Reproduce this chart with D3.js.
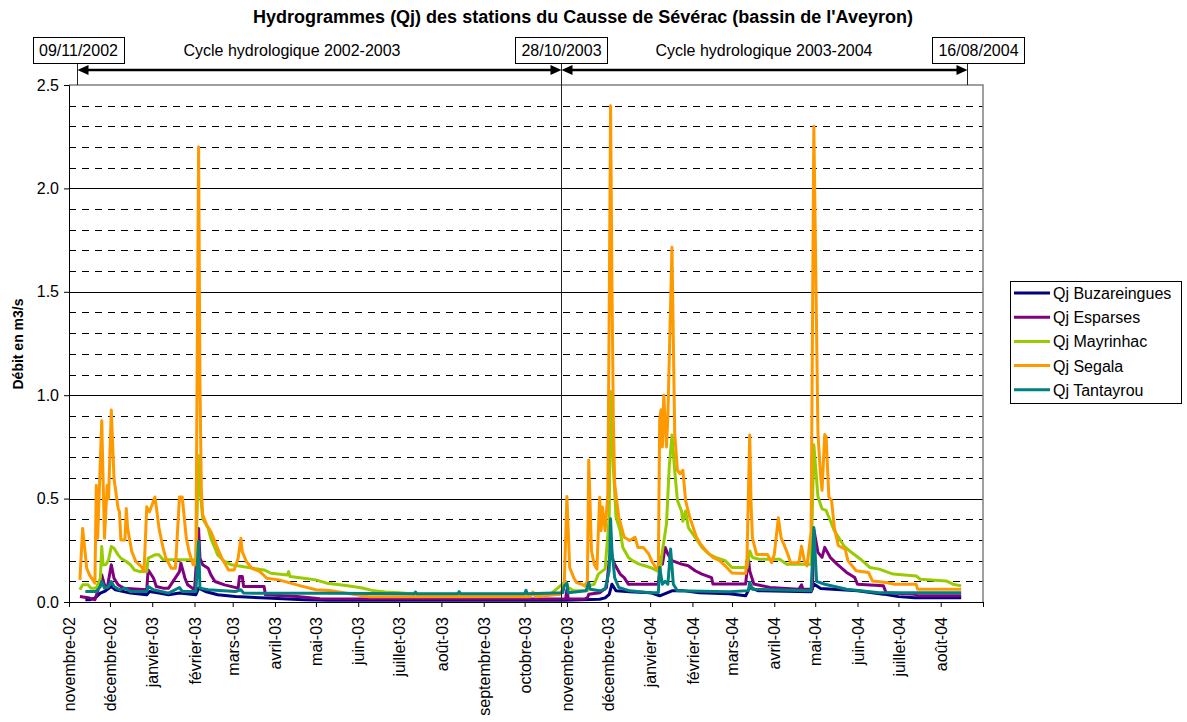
<!DOCTYPE html>
<html><head><meta charset="utf-8">
<script src="https://cdn.jsdelivr.net/npm/d3@7"></script>
<style>body{margin:0;background:#fff}svg{display:block}text{font-family:"Liberation Sans",Arial,sans-serif}</style>
</head><body><svg id="c" width="1187" height="722"></svg>
<script>
const seriesNames = ["Qj Buzareingues","Qj Esparses","Qj Mayrinhac","Qj Segala","Qj Tantayrou"];
const seriesColors = ["#000080","#800080","#99CC00","#FF9900","#008080"];
const xTickLabels = ["novembre-02","décembre-02","janvier-03","février-03","mars-03","avril-03","mai-03","juin-03","juillet-03","août-03","septembre-03","octobre-03","novembre-03","décembre-03","janvier-04","février-04","mars-04","avril-04","mai-04","juin-04","juillet-04","août-04"];
const yTicks = [0,0.5,1,1.5,2,2.5];
const annotDates = ["2002-11-09","2003-10-28","2004-08-16"];
const annotLabels = ["09/11/2002","28/10/2003","16/08/2004"];
const cycleLabels = ["Cycle hydrologique 2002-2003","Cycle hydrologique 2003-2004"];

const buzareingues = [["2002-11-13",0.011],["2002-11-16",0.011],["2002-11-20",0.019],["2002-11-24",0.043],["2002-11-27",0.051],["2002-12-02",0.075],["2002-12-05",0.059],["2002-12-16",0.043],["2002-12-28",0.035],["2002-12-30",0.051],["2003-01-06",0.043],["2003-01-13",0.035],["2003-01-21",0.043],["2003-02-02",0.035],["2003-02-04",0.067],["2003-02-09",0.051],["2003-02-18",0.035],["2003-03-03",0.027],["2003-03-26",0.019],["2003-04-22",0.011],["2003-05-10",0.008],["2003-10-31",0.008],["2003-11-25",0.013],["2003-11-29",0.02],["2003-12-02",0.037],["2003-12-04",0.086],["2003-12-07",0.054],["2003-12-17",0.05],["2004-01-01",0.045],["2004-01-08",0.03],["2004-01-17",0.054],["2004-01-25",0.055],["2004-02-06",0.045],["2004-02-28",0.04],["2004-03-11",0.03],["2004-03-14",0.07],["2004-03-20",0.055],["2004-04-28",0.05],["2004-04-30",0.087],["2004-05-05",0.065],["2004-06-01",0.054],["2004-06-20",0.038],["2004-07-01",0.026],["2004-07-13",0.02],["2004-08-16",0.02]];

const esparses = [["2002-11-09",0.027],["2002-11-16",0.019],["2002-11-20",0.011],["2002-11-22",0.051],["2002-11-25",0.131],["2002-11-27",0.083],["2002-11-29",0.067],["2002-12-02",0.18],["2002-12-04",0.115],["2002-12-07",0.083],["2002-12-11",0.067],["2002-12-28",0.059],["2002-12-29",0.155],["2003-01-02",0.115],["2003-01-04",0.075],["2003-01-09",0.067],["2003-01-13",0.067],["2003-01-21",0.147],["2003-01-22",0.188],["2003-01-25",0.115],["2003-01-27",0.083],["2003-02-01",0.059],["2003-02-04",0.356],["2003-02-05",0.212],["2003-02-07",0.18],["2003-02-11",0.163],["2003-02-13",0.131],["2003-02-16",0.099],["2003-02-23",0.083],["2003-03-05",0.067],["2003-03-06",0.123],["2003-03-08",0.123],["2003-03-09",0.075],["2003-03-24",0.075],["2003-03-25",0.035],["2003-04-17",0.027],["2003-05-04",0.016],["2003-10-31",0.014],["2003-11-01",0.06],["2003-11-02",0.015],["2003-11-14",0.015],["2003-11-16",0.02],["2003-11-17",0.037],["2003-11-25",0.045],["2003-11-30",0.07],["2003-12-02",0.2],["2003-12-03",0.23],["2003-12-06",0.183],["2003-12-10",0.135],["2003-12-13",0.118],["2003-12-16",0.086],["2004-01-07",0.086],["2004-01-09",0.216],["2004-01-10",0.183],["2004-01-12",0.264],["2004-01-14",0.232],["2004-01-17",0.2],["2004-01-24",0.183],["2004-01-29",0.175],["2004-02-03",0.151],["2004-02-08",0.135],["2004-02-15",0.118],["2004-02-16",0.087],["2004-03-11",0.087],["2004-03-13",0.215],["2004-03-14",0.15],["2004-03-17",0.087],["2004-03-29",0.07],["2004-04-19",0.062],["2004-04-21",0.083],["2004-04-22",0.062],["2004-04-29",0.062],["2004-04-30",0.35],["2004-05-03",0.24],["2004-05-06",0.216],["2004-05-08",0.264],["2004-05-12",0.216],["2004-05-17",0.183],["2004-05-24",0.143],["2004-05-30",0.118],["2004-06-01",0.086],["2004-06-20",0.078],["2004-06-22",0.045],["2004-07-13",0.037],["2004-07-15",0.03],["2004-08-16",0.03]];

const mayrinhac = [["2002-11-09",0.059],["2002-11-11",0.083],["2002-11-15",0.083],["2002-11-17",0.067],["2002-11-21",0.067],["2002-11-24",0.115],["2002-11-25",0.268],["2002-11-26",0.18],["2002-11-28",0.18],["2002-11-30",0.204],["2002-12-02",0.268],["2002-12-04",0.26],["2002-12-07",0.228],["2002-12-09",0.212],["2002-12-13",0.196],["2002-12-16",0.18],["2002-12-19",0.155],["2002-12-23",0.147],["2002-12-28",0.147],["2002-12-29",0.212],["2003-01-03",0.228],["2003-01-06",0.228],["2003-01-09",0.204],["2003-01-31",0.204],["2003-02-02",0.196],["2003-02-04",0.708],["2003-02-05",0.548],["2003-02-07",0.404],["2003-02-11",0.356],["2003-02-13",0.308],["2003-02-16",0.26],["2003-02-18",0.228],["2003-02-23",0.196],["2003-02-28",0.18],["2003-03-16",0.163],["2003-03-24",0.155],["2003-03-29",0.139],["2003-04-10",0.131],["2003-04-11",0.147],["2003-04-12",0.123],["2003-04-22",0.115],["2003-05-01",0.107],["2003-05-09",0.091],["2003-05-23",0.08],["2003-06-04",0.068],["2003-06-11",0.056],["2003-06-21",0.048],["2003-07-01",0.045],["2003-07-15",0.038],["2003-10-20",0.038],["2003-10-31",0.1],["2003-11-02",0.07],["2003-11-06",0.054],["2003-11-16",0.054],["2003-11-17",0.078],["2003-11-21",0.086],["2003-11-24",0.135],["2003-11-29",0.16],["2003-12-02",0.41],["2003-12-03",1.018],["2003-12-05",0.653],["2003-12-07",0.41],["2003-12-10",0.345],["2003-12-12",0.264],["2003-12-16",0.216],["2003-12-19",0.2],["2003-12-24",0.183],["2003-12-28",0.175],["2004-01-01",0.167],["2004-01-06",0.151],["2004-01-08",0.143],["2004-01-10",0.248],["2004-01-13",0.378],["2004-01-15",0.653],["2004-01-17",0.807],["2004-01-19",0.637],["2004-01-21",0.49],["2004-01-24",0.44],["2004-01-25",0.39],["2004-01-27",0.44],["2004-01-29",0.36],["2004-02-03",0.313],["2004-02-08",0.264],["2004-02-13",0.232],["2004-02-18",0.216],["2004-02-25",0.2],["2004-03-01",0.167],["2004-03-12",0.167],["2004-03-14",0.247],["2004-03-16",0.215],["2004-03-21",0.207],["2004-04-05",0.207],["2004-04-10",0.183],["2004-04-28",0.183],["2004-04-30",0.76],["2004-05-03",0.51],["2004-05-06",0.45],["2004-05-09",0.443],["2004-05-12",0.394],["2004-05-15",0.345],["2004-05-22",0.272],["2004-05-26",0.248],["2004-06-03",0.208],["2004-06-10",0.167],["2004-06-17",0.159],["2004-06-27",0.135],["2004-07-14",0.126],["2004-07-17",0.11],["2004-08-05",0.102],["2004-08-10",0.086],["2004-08-16",0.078]];

const segala = [["2002-11-09",0.107],["2002-11-11",0.356],["2002-11-14",0.163],["2002-11-16",0.131],["2002-11-20",0.091],["2002-11-21",0.564],["2002-11-22",0.308],["2002-11-25",0.877],["2002-11-27",0.308],["2002-11-29",0.564],["2002-11-30",0.5],["2002-12-02",0.929],["2002-12-04",0.596],["2002-12-07",0.452],["2002-12-08",0.436],["2002-12-09",0.30],["2002-12-12",0.30],["2002-12-13",0.452],["2002-12-14",0.356],["2002-12-17",0.244],["2002-12-20",0.196],["2002-12-24",0.171],["2002-12-26",0.147],["2002-12-28",0.46],["2002-12-30",0.436],["2003-01-03",0.508],["2003-01-04",0.46],["2003-01-06",0.356],["2003-01-09",0.26],["2003-01-11",0.212],["2003-01-15",0.163],["2003-01-18",0.163],["2003-01-21",0.508],["2003-01-23",0.508],["2003-01-26",0.308],["2003-01-28",0.244],["2003-01-31",0.18],["2003-02-02",0.18],["2003-02-04",2.2],["2003-02-05",1.05],["2003-02-06",0.548],["2003-02-07",0.42],["2003-02-10",0.372],["2003-02-13",0.34],["2003-02-16",0.292],["2003-02-18",0.26],["2003-02-21",0.212],["2003-02-26",0.155],["2003-03-02",0.155],["2003-03-05",0.212],["2003-03-07",0.308],["2003-03-08",0.244],["2003-03-11",0.196],["2003-03-15",0.163],["2003-03-21",0.147],["2003-03-26",0.115],["2003-04-04",0.107],["2003-04-17",0.083],["2003-05-01",0.059],["2003-05-11",0.056],["2003-05-26",0.04],["2003-06-09",0.025],["2003-10-05",0.025],["2003-10-07",0.048],["2003-10-09",0.025],["2003-10-27",0.037],["2003-10-30",0.08],["2003-11-01",0.51],["2003-11-03",0.167],["2003-11-06",0.118],["2003-11-08",0.094],["2003-11-12",0.086],["2003-11-14",0.078],["2003-11-16",0.10],["2003-11-17",0.686],["2003-11-19",0.248],["2003-11-21",0.183],["2003-11-23",0.159],["2003-11-25",0.507],["2003-11-26",0.345],["2003-11-27",0.459],["2003-11-29",0.345],["2003-12-01",0.524],["2003-12-02",1.415],["2003-12-03",2.40],["2003-12-04",1.545],["2003-12-05",0.897],["2003-12-06",0.572],["2003-12-09",0.41],["2003-12-13",0.313],["2003-12-17",0.297],["2003-12-21",0.313],["2003-12-23",0.264],["2003-12-27",0.264],["2003-12-31",0.232],["2004-01-02",0.2],["2004-01-05",0.167],["2004-01-07",0.159],["2004-01-08",0.88],["2004-01-09",0.93],["2004-01-10",0.75],["2004-01-11",1.0],["2004-01-13",0.75],["2004-01-14",0.897],["2004-01-17",1.715],["2004-01-19",0.816],["2004-01-21",0.637],["2004-01-23",0.62],["2004-01-25",0.637],["2004-01-27",0.49],["2004-01-30",0.41],["2004-02-04",0.313],["2004-02-07",0.28],["2004-02-11",0.248],["2004-02-16",0.216],["2004-02-21",0.2],["2004-02-25",0.175],["2004-03-01",0.14],["2004-03-11",0.138],["2004-03-12",0.215],["2004-03-14",0.808],["2004-03-15",0.47],["2004-03-16",0.31],["2004-03-19",0.23],["2004-03-27",0.23],["2004-03-30",0.19],["2004-04-01",0.23],["2004-04-04",0.407],["2004-04-06",0.31],["2004-04-08",0.28],["2004-04-11",0.23],["2004-04-13",0.19],["2004-04-19",0.19],["2004-04-21",0.27],["2004-04-23",0.2],["2004-04-25",0.175],["2004-04-28",0.34],["2004-04-30",2.3],["2004-05-03",0.816],["2004-05-05",0.605],["2004-05-06",0.54],["2004-05-08",0.81],["2004-05-09",0.80],["2004-05-11",0.508],["2004-05-13",0.49],["2004-05-15",0.36],["2004-05-18",0.272],["2004-05-23",0.256],["2004-05-25",0.2],["2004-05-31",0.151],["2004-06-09",0.143],["2004-06-12",0.102],["2004-06-22",0.094],["2004-06-28",0.086],["2004-07-14",0.086],["2004-07-15",0.062],["2004-08-16",0.062]];

const tantayrou = [["2002-11-13",0.051],["2002-11-21",0.051],["2002-11-24",0.075],["2002-11-25",0.099],["2002-11-27",0.067],["2002-11-30",0.075],["2002-12-02",0.099],["2002-12-04",0.075],["2002-12-08",0.059],["2002-12-12",0.067],["2002-12-16",0.051],["2002-12-28",0.051],["2002-12-29",0.075],["2003-01-02",0.059],["2003-01-13",0.043],["2003-01-21",0.07],["2003-01-23",0.051],["2003-02-02",0.051],["2003-02-04",0.292],["2003-02-05",0.067],["2003-02-11",0.059],["2003-03-03",0.051],["2003-03-07",0.059],["2003-03-09",0.043],["2003-05-10",0.042],["2003-07-12",0.04],["2003-07-13",0.048],["2003-07-14",0.04],["2003-08-13",0.04],["2003-08-14",0.05],["2003-08-15",0.04],["2003-10-01",0.04],["2003-10-02",0.056],["2003-10-03",0.04],["2003-10-29",0.045],["2003-10-30",0.078],["2003-11-01",0.09],["2003-11-02",0.045],["2003-11-15",0.054],["2003-11-17",0.094],["2003-11-18",0.062],["2003-11-25",0.054],["2003-11-29",0.062],["2003-12-02",0.151],["2003-12-03",0.402],["2003-12-04",0.248],["2003-12-06",0.118],["2003-12-09",0.07],["2003-12-17",0.054],["2004-01-01",0.045],["2004-01-07",0.045],["2004-01-08",0.167],["2004-01-10",0.086],["2004-01-12",0.10],["2004-01-14",0.086],["2004-01-16",0.256],["2004-01-18",0.086],["2004-01-21",0.054],["2004-02-28",0.05],["2004-03-13",0.055],["2004-03-14",0.095],["2004-03-16",0.062],["2004-04-28",0.054],["2004-04-30",0.36],["2004-05-02",0.10],["2004-05-08",0.086],["2004-05-24",0.062],["2004-06-17",0.045],["2004-08-16",0.045]];

const seriesData = [buzareingues, esparses, mayrinhac, segala, tantayrou];

const parse = d3.utcParse("%Y-%m-%d");
const svg = d3.select("#c");
svg.append("rect").attr("width",1187).attr("height",722).attr("fill","#fff");

const L = 69, R = 983, T = 85, B = 602;
const x = d3.scaleUtc().domain([parse("2002-11-01"), parse("2004-09-01")]).range([L, R]);
const y = d3.scaleLinear().domain([0, 2.5]).range([B, T]);

// gridlines
const minor = d3.range(1, 25).map(d => d / 10).filter(d => Math.abs(d * 2 - Math.round(d * 2)) > 1e-6);
svg.append("g").selectAll("line").data(minor).join("line")
  .attr("x1", L).attr("x2", R).attr("y1", d => Math.round(y(d)) + 0.5).attr("y2", d => Math.round(y(d)) + 0.5)
  .attr("stroke", "#000").attr("stroke-width", 1).attr("stroke-dasharray", "7,6");
svg.append("g").selectAll("line").data([0.5, 1, 1.5, 2]).join("line")
  .attr("x1", L).attr("x2", R).attr("y1", d => Math.round(y(d)) + 0.5).attr("y2", d => Math.round(y(d)) + 0.5)
  .attr("stroke", "#000").attr("stroke-width", 1);
// plot border top/right
svg.append("path").attr("d", `M${L},${T}H${R}V${B}`).attr("fill", "none").attr("stroke", "#808080").attr("stroke-width", 1.5);

// annotation positions
const ax = annotDates.map(d => x(parse(d)));
const nudge = [-3, 0, 6];
const boxShift = [1, 0, 11];
const axp = ax.map((v, i) => Math.round(v + nudge[i]) + 0.5);

// series
const line = d3.line().x(d => x(parse(d[0]))).y(d => y(d[1]));
svg.append("g").selectAll("path").data(seriesData).join("path")
  .attr("d", line).attr("fill", "none")
  .attr("stroke", (d, i) => seriesColors[i]).attr("stroke-width", 3)
  .attr("stroke-linejoin", "round");

svg.append("line").attr("x1", axp[1]).attr("x2", axp[1]).attr("y1", 63).attr("y2", B + 5)
  .attr("stroke", "#222").attr("stroke-width", 1);
[0, 2].forEach(i => svg.append("line").attr("x1", axp[i]).attr("x2", axp[i]).attr("y1", 63).attr("y2", T)
  .attr("stroke", "#222").attr("stroke-width", 1));

// axes
const yAxis = svg.append("g").attr("transform", `translate(${L},0)`)
  .call(d3.axisLeft(y).tickValues(yTicks).tickFormat(d => d.toFixed(1)).tickSize(5).tickPadding(5));
yAxis.select(".domain").attr("stroke", "#000");
yAxis.selectAll("text").attr("font-size", 16).attr("fill", "#000").attr("font-family", '"Liberation Sans",Arial,sans-serif');

const monthTicks = d3.utcMonth.range(parse("2002-11-01"), parse("2004-09-02"));
const xAxis = svg.append("g").attr("transform", `translate(0,${B})`)
  .call(d3.axisBottom(x).tickValues(monthTicks).tickFormat((d, i) => xTickLabels[i] || "").tickSize(5).tickSizeOuter(0));
xAxis.select(".domain").attr("stroke", "#000");
xAxis.selectAll("text").attr("font-size", 16).attr("fill", "#000").attr("font-family", '"Liberation Sans",Arial,sans-serif')
  .attr("transform", "rotate(-90)").attr("x", -15).attr("y", 0).attr("dy", "0.35em").style("text-anchor", "end");

// title
svg.append("text").attr("x", 583).attr("y", 23).attr("text-anchor", "middle")
  .attr("font-size", 18).attr("font-weight", "bold").text("Hydrogrammes (Qj) des stations du Causse de Sévérac (bassin de l'Aveyron)");

// y label
svg.append("text").attr("transform", "translate(23,344) rotate(-90)").attr("text-anchor", "middle")
  .attr("font-size", 14).attr("font-weight", "bold").text("Débit en m3/s");

// arrows
function arrow(x0, x1) {
  svg.append("line").attr("x1", x0 + 8).attr("x2", x1 - 8).attr("y1", 70).attr("y2", 70).attr("stroke", "#000").attr("stroke-width", 2.5);
  svg.append("path").attr("d", `M${x0},70L${x0 + 11},65L${x0 + 11},75Z`).attr("fill", "#000");
  svg.append("path").attr("d", `M${x1},70L${x1 - 11},65L${x1 - 11},75Z`).attr("fill", "#000");
}
arrow(axp[0], axp[1]);
arrow(axp[1], axp[2]);

// date boxes
annotLabels.forEach((t, i) => {
  const cx = axp[i] + boxShift[i];
  const g = svg.append("g");
  const tx = g.append("text").attr("x", cx).attr("y", 56).attr("text-anchor", "middle").attr("font-size", 16).text(t);
  const w = tx.node().getComputedTextLength();
  g.insert("rect", "text").attr("x", Math.round(cx - w / 2 - 6) + 0.5).attr("y", 37.5).attr("width", Math.round(w + 12)).attr("height", 26)
    .attr("fill", "#fff").attr("stroke", "#000").attr("stroke-width", 1);
});
// cycle labels
svg.append("text").attr("x", 292).attr("y", 56).attr("text-anchor", "middle").attr("font-size", 16).text(cycleLabels[0]);
svg.append("text").attr("x", 764).attr("y", 56).attr("text-anchor", "middle").attr("font-size", 16).text(cycleLabels[1]);

// legend
const lg = svg.append("g");
lg.append("rect").attr("x", 1010.5).attr("y", 281.5).attr("width", 171).attr("height", 122).attr("fill", "#fff").attr("stroke", "#000").attr("stroke-width", 1);
seriesNames.forEach((n, i) => {
  const yy = 293 + i * 24.2;
  lg.append("line").attr("x1", 1014).attr("x2", 1050).attr("y1", yy).attr("y2", yy).attr("stroke", seriesColors[i]).attr("stroke-width", 3);
  lg.append("text").attr("x", 1053).attr("y", yy + 6).attr("font-size", 16).text(n);
});
</script></body></html>
